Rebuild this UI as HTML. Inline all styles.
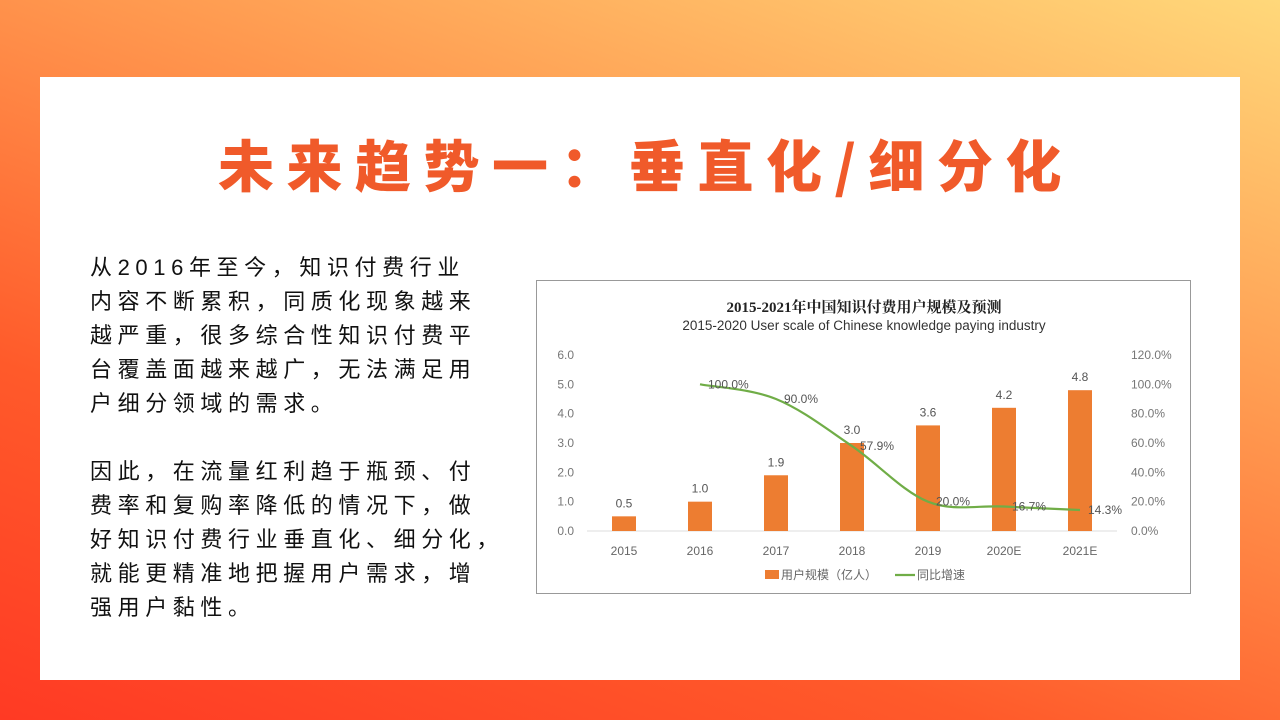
<!DOCTYPE html>
<html><head><meta charset="utf-8">
<style>
html,body{margin:0;padding:0;}
body{width:1280px;height:720px;overflow:hidden;position:relative;
background:linear-gradient(200deg,#ffd87a 0%,#ff9a50 35%,#ff5a2a 70%,#ff3a24 100%);
font-family:"Liberation Sans","Noto Sans CJK SC",sans-serif;}
#card{position:absolute;left:40px;top:77px;width:1200px;height:603px;background:#fff;}
#title{position:absolute;left:0;top:126px;width:1280px;text-align:center;font-size:56px;font-weight:900;color:#f05a2a;letter-spacing:12.5px;line-height:76px;padding-left:12px;box-sizing:border-box;font-family:"Noto Sans CJK SC",sans-serif;}
#body{position:absolute;left:90px;top:251px;font-size:22px;line-height:34px;letter-spacing:5.6px;color:#111;font-family:"Liberation Sans","Noto Sans CJK SC",sans-serif;white-space:nowrap;}
#chartbox{position:absolute;left:536px;top:280px;width:655px;height:314px;border:1px solid #999;box-sizing:border-box;background:#fff;}
</style></head>
<body>
<div id="card"></div>
<div id="title">未来趋势一：垂直化/细分化</div>
<div id="body">从2016年至今，知识付费行业<br>内容不断累积，同质化现象越来<br>越严重，很多综合性知识付费平<br>台覆盖面越来越广，无法满足用<br>户细分领域的需求。<br><br>因此，在流量红利趋于瓶颈、付<br>费率和复购率降低的情况下，做<br>好知识付费行业垂直化、细分化，<br>就能更精准地把握用户需求，增<br>强用户黏性。</div>
<div id="chartbox">
<svg id="chart" width="655" height="314" xmlns="http://www.w3.org/2000/svg"></svg>
</div>
<script>
const categories=["2015","2016","2017","2018","2019","2020E","2021E"];
const users=[0.5,1.0,1.9,3.0,3.6,4.2,4.8];
const growth=[null,100.0,90.0,57.9,20.0,16.7,14.3];
const leftTicks=[0,1,2,3,4,5,6];
const rightTicks=[0,20,40,60,80,100,120];

const svg=document.getElementById('chart');
const NS="http://www.w3.org/2000/svg";
const ox=536, oy=280;
const x0=623-ox, step=76, base=530-oy, plotTop=354-oy;
const xs=i=>x0+i*step;
const yL=v=>base-(v/6)*(base-plotTop);
const yR=v=>base-(v/120)*(base-plotTop);
const GF='"Liberation Sans","Noto Sans CJK SC",sans-serif';
function mk(tag,attrs,txt){const e=document.createElementNS(NS,tag);for(const k in attrs)e.setAttribute(k,attrs[k]);if(txt!==undefined)e.textContent=txt;svg.appendChild(e);return e;}

let t=mk('text',{x:327,y:31,'text-anchor':'middle','font-size':15,'font-weight':'bold',fill:'#222','font-family':'"Liberation Serif","Noto Serif CJK SC",serif'},'2015-2021年中国知识付费用户规模及预测');


t=mk('text',{x:327,y:49,'text-anchor':'middle','font-size':13.5,fill:'#333','font-family':GF},'2015-2020 User scale of Chinese knowledge paying industry');



leftTicks.forEach(v=>{const e=mk('text',{x:37,y:yL(v)+4,'text-anchor':'end','font-size':12,fill:'#777','font-family':GF},v.toFixed(1));

});
rightTicks.forEach(v=>{const e=mk('text',{x:594,y:yR(v)+4,'text-anchor':'start','font-size':12,fill:'#777','font-family':GF},v.toFixed(1)+'%');

});
const ax=mk('line',{x1:50,x2:580,y1:base,y2:base,stroke:'#ddd','stroke-width':1});



categories.forEach((c,i)=>{
 const b=mk('rect',{x:xs(i)-12,y:yL(users[i]),width:24,height:base-yL(users[i]),fill:'#ed7d31'});
 
 
 const l=mk('text',{x:xs(i),y:yL(users[i])-9,'text-anchor':'middle','font-size':12,fill:'#555','font-family':GF},users[i].toFixed(1));
 
 
 const xl=mk('text',{x:xs(i),y:base+24,'text-anchor':'middle','font-size':12,fill:'#666','font-family':GF},c);
 
 
});

const pts=[];growth.forEach((g,i)=>{if(g!==null)pts.push([xs(i),yR(g)]);});
let d='M'+pts[0][0]+','+pts[0][1];
for(let i=0;i<pts.length-1;i++){const p0=pts[i-1]||pts[i],p1=pts[i],p2=pts[i+1],p3=pts[i+2]||p2;
 const c1x=p1[0]+(p2[0]-p0[0])/6,c1y=p1[1]+(p2[1]-p0[1])/6,c2x=p2[0]-(p3[0]-p1[0])/6,c2y=p2[1]-(p3[1]-p1[1])/6;
 d+=` C${c1x},${c1y} ${c2x},${c2y} ${p2[0]},${p2[1]}`;}
const ln=mk('path',{d:d,fill:'none',stroke:'#70ad47','stroke-width':2.2});


growth.forEach((g,i)=>{if(g===null)return;
 const e=mk('text',{x:xs(i)+8,y:yR(g)+4,'text-anchor':'start','font-size':12,fill:'#555','font-family':GF},g.toFixed(1)+'%');
 
 });

const lr=mk('rect',{x:228,y:289,width:14,height:9,fill:'#ed7d31'});


t=mk('text',{x:244,y:298,'font-size':12,fill:'#666','font-family':GF},'用户规模（亿人）');


const ll=mk('line',{x1:358,x2:378,y1:294,y2:294,stroke:'#70ad47','stroke-width':2.2});


t=mk('text',{x:380,y:298,'font-size':12,fill:'#666','font-family':GF},'同比增速');


</script>
</body></html>
